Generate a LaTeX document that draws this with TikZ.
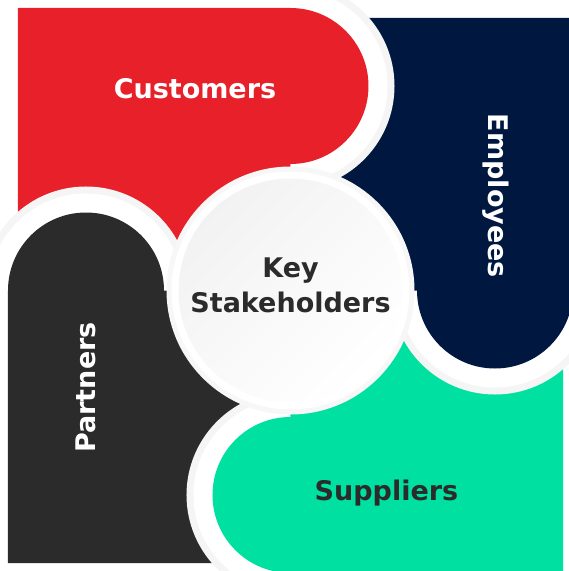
\documentclass[tikz,border=0pt]{standalone}
\usepackage{fontspec}
\setmainfont{DejaVu Sans}
\usepackage{xcolor}
\usepackage{tikz}
\tikzset{>=latex}
\definecolor{petalred}{HTML}{E82029}
\definecolor{petalnavy}{HTML}{001840}
\definecolor{petalgreen}{HTML}{00E0A0}
\definecolor{petaldark}{HTML}{2B2B2B}
\def\knob{78}
% one petal: a block with a round knob, turned about the hub for the others
\def\petalpath{(-272.5,282.5) -- (0,282.5) arc[start angle=90, end angle=-90, radius=\knob] -- (0,0) -- (-272.5,0) -- cycle}
\tikzset{
  petal/.style={fill=#1, preaction={draw=black!4, line width=52}, preaction={draw=white, line width=38}},
  petaltext/.style={font=\bfseries\fontsize{27}{35}\selectfont, text=white, anchor=base},
}

\begin{document}
\begin{tikzpicture}[x=1pt, y=1pt]
\useasboundingbox (-290.5,-280.5) rectangle (278.5,290.5);
\clip (-290.5,-280.5) rectangle (278.5,290.5);

% petals, each lies over the one that follows it clockwise
\foreach \ang/\col in {90/petaldark, 180/petalgreen, 270/petalnavy, 0/petalred}{
    \path[petal=\col, rotate=\ang] \petalpath;
}

% Partners knob goes back over the red block
\begin{scope}
    \clip (-300,-40) rectangle (0,300);
    \path[petal=petaldark, rotate=90] \petalpath;
\end{scope}

% hub
\fill[black!3] (0,0) circle[radius=124];
\fill[white] (0,0) circle[radius=119];
\shade[top color=black!5, middle color=white, bottom color=white, shading angle=45] (0,0) circle[radius=112];

\node[petaltext] (customers) at (-95.5,192.5) {Customers};
\node[petaltext, rotate=-90] (employees) at (198.5,94.5) {Employees};
\node[petaltext, text=petaldark] (suppliers) at (96,-209.5) {Suppliers};
\node[petaltext, rotate=90] (partners) at (-194.5,-97) {Partners};
\node[petaltext, text=petaldark, anchor=center, align=center] (hub) at (0,5) {Key\\Stakeholders};

\end{tikzpicture}
\end{document}
